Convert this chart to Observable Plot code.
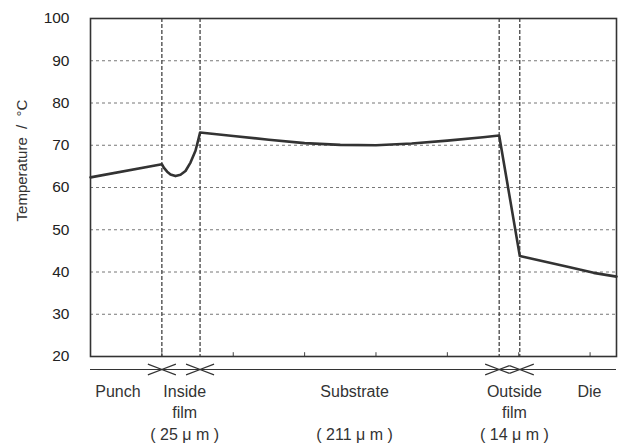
<!DOCTYPE html>
<html><head><meta charset="utf-8">
<script src="https://cdn.jsdelivr.net/npm/d3@7"></script>
<script src="https://cdn.jsdelivr.net/npm/@observablehq/plot@0.6"></script>
<style>body{margin:0;background:#fff}</style>
</head><body><div id="chart"></div>
<script>
// Position through the stack (arbitrary schematic units) and temperature (°C)
const depth = [0, 1.0, 1.027, 1.074, 1.121, 1.191, 1.261, 1.331, 1.401, 1.471, 1.518, 1.535,
  2.0, 2.5, 3.0, 3.5, 4.0, 4.5, 5.0, 5.5, 5.726, 6.015, 6.7, 7.05, 7.37];
const temperature = [62.4, 65.5, 64.7, 63.75, 63.1, 62.7, 63.0, 63.9, 65.9, 68.7, 71.8, 73.0,
  72.2, 71.3, 70.5, 70.1, 70.0, 70.4, 71.1, 71.9, 72.3, 43.8, 41.2, 39.8, 38.9];

const yTicks = [20, 30, 40, 50, 60, 70, 80, 90, 100];
const gridY = [30, 40, 50, 60, 70, 80, 90];
const bottomTicks = [1, 2, 3, 4, 5, 6, 7];
const boundaries = [1.0, 1.535, 5.726, 6.015];
const regionNames = ["Punch", "Inside\nfilm\n( 25 μ m )", "Substrate\n\n( 211 μ m )", "Outside\nfilm\n( 14 μ m )", "Die"];
const regionStart = [0, 1.0, 1.535, 5.726, 6.015];
const regionEnd = [1.0, 1.535, 5.726, 6.015, 7.37];
const labelAt = [0.385, 1.32, 3.70, 5.94, 6.99];
const yTitle = "Temperature  /  °C";

const W = 624, H = 444, mL = 90, mR = 8, mT = 18, mB = 88;
const xDomain = [0, 7.37];
const pxPerUnit = (W - mL - mR) / (xDomain[1] - xDomain[0]);

const curve = depth.map((d, i) => ({x: d, t: temperature[i]}));
const labels = regionNames.map((n, i) => ({name: n, x: labelAt[i]}));

// arrowheads at region boundaries
const heads = [];
regionNames.forEach((n, i) => {
  const L = Math.min(14, (regionEnd[i] - regionStart[i]) * pxPerUnit / 2);
  if (i > 0) heads.push({x: regionStart[i], rot: 180, L});
  if (i < regionNames.length - 1) heads.push({x: regionEnd[i], rot: 0, L});
});
const chevron = {
  draw(ctx, size) {
    const L = Math.sqrt(size / Math.PI), h = L * 0.38;
    ctx.moveTo(-L, -h); ctx.lineTo(0, 0); ctx.lineTo(-L, h);
  }
};
const headMarks = Array.from(d3.group(heads, d => d.L), ([L, arr]) =>
  Plot.dot(arr, {x: "x", frameAnchor: "bottom", dy: 13, r: L, symbol: chevron,
    rotate: "rot", fill: "none", stroke: "#333", strokeWidth: 1.2}));

const font = "'Liberation Sans', Arial, sans-serif";

const chart = Plot.plot({
  width: W, height: H,
  marginLeft: mL, marginRight: mR, marginTop: mT, marginBottom: mB,
  style: {fontFamily: font, color: "#333", background: "#fff"},
  x: {domain: xDomain, axis: null},
  y: {domain: [20, 100], axis: null},
  marks: [
    Plot.ruleY(gridY, {stroke: "#777", strokeDasharray: "3,3", strokeWidth: 1}),
    Plot.ruleX(boundaries, {stroke: "#333", strokeDasharray: "4,2", strokeWidth: 1.2}),
    Plot.ruleX(bottomTicks, {y1: 20, y2: 20.9, stroke: "#444", strokeWidth: 1}),
    Plot.frame({stroke: "#333", strokeWidth: 1.6}),
    Plot.line(curve, {x: "x", y: "t", stroke: "#333", strokeWidth: 2.6, strokeLinejoin: "round"}),
    Plot.axisY({ticks: yTicks, tickSize: 0, tickPadding: 21, label: null, fontSize: 15.5, fill: "#222"}),
    Plot.text([yTitle], {frameAnchor: "left", textAnchor: "middle", dx: -68, dy: -27, rotate: -90, fontSize: 15, fill: "#333"}),
    Plot.ruleY([20], {x1: 0, x2: 7.37, dy: 13, stroke: "#333", strokeWidth: 1.2}),
    ...headMarks,
    Plot.text(labels, {x: "x", text: "name", frameAnchor: "bottom", dy: 25, lineAnchor: "top",
      lineHeight: 1.35, fontSize: 16, fill: "#333"})
  ]
});
document.getElementById("chart").append(chart);
</script>
</body></html>
